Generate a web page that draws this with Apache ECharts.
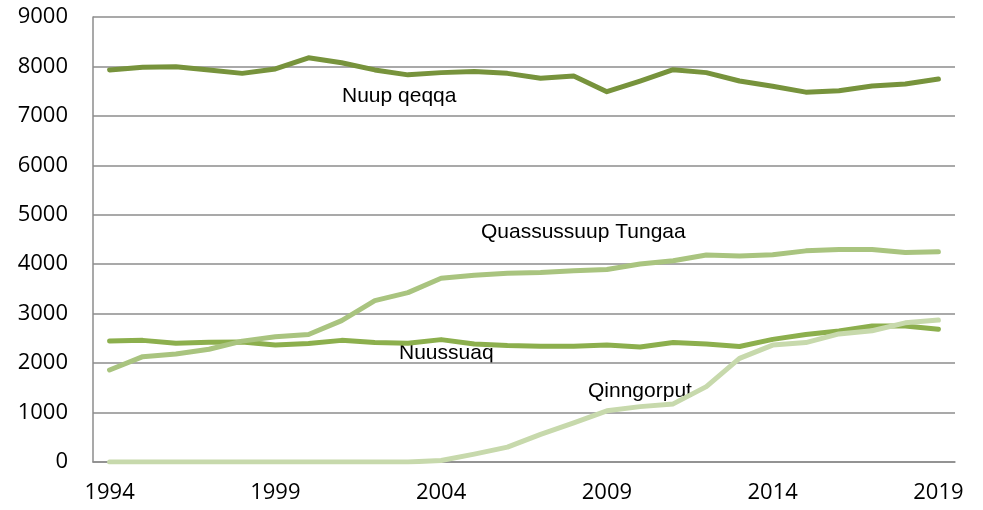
<!DOCTYPE html>
<html>
<head>
<meta charset="utf-8">
<script src="https://cdn.jsdelivr.net/npm/echarts@6/dist/echarts.min.js"></script>
<style>
html,body{margin:0;padding:0;background:#fff;}
#c{width:983px;height:510px;}
</style>
</head>
<body>
<div id="c"></div>
<script>
const years = ['1994','1995','1996','1997','1998','1999','2000','2001','2002','2003','2004','2005','2006','2007','2008','2009','2010','2011','2012','2013','2014','2015','2016','2017','2018','2019'];
const nuupQeqqa = [7930,7985,7995,7930,7860,7950,8175,8075,7930,7830,7875,7900,7860,7760,7805,7490,7705,7935,7875,7705,7600,7480,7510,7605,7645,7745];
const nuussuaq = [2445,2460,2400,2420,2425,2365,2395,2460,2415,2400,2475,2385,2355,2340,2340,2365,2325,2415,2385,2335,2480,2580,2650,2750,2750,2685];
const quassussuupTungaa = [1860,2130,2185,2280,2445,2535,2580,2860,3265,3425,3715,3775,3815,3835,3870,3895,4005,4070,4185,4165,4190,4270,4300,4300,4235,4250];
const qinngorput = [0,0,0,0,0,0,0,0,0,0,30,160,300,560,790,1035,1120,1175,1525,2095,2365,2415,2590,2655,2815,2870];
const yTicks = [0,1000,2000,3000,4000,5000,6000,7000,8000,9000];

const names = ['Nuup qeqqa','Nuussuaq','Quassussuup Tungaa','Qinngorput'];
const colors = ['#77933C','#8CAF4D','#A9C47F','#C7D9AC'];
const values = [nuupQeqqa, nuussuaq, quassussuupTungaa, qinngorput];

const chart = echarts.init(document.getElementById('c'));
const font = '"Liberation Sans", Arial, sans-serif';
const labelFont = '"Open Sans", sans-serif';
chart.setOption({
  animation: false,
  backgroundColor: '#fff',
  grid: {left: 93, right: 28, top: 17, bottom: 48},
  xAxis: {
    type: 'category',
    data: years,
    boundaryGap: true,
    axisLine: {show: true, lineStyle: {color: '#8c8c8c', width: 1.5}},
    axisTick: {show: false},
    axisLabel: {interval: 4, color: '#000', fontSize: 22, fontFamily: labelFont, margin: 20}
  },
  yAxis: {
    type: 'value',
    min: yTicks[0],
    max: yTicks[yTicks.length - 1],
    interval: 1000,
    axisLine: {show: true, lineStyle: {color: '#8c8c8c', width: 1.5}},
    axisTick: {show: false},
    splitLine: {show: true, lineStyle: {color: '#8c8c8c', width: 1.5}},
    axisLabel: {color: '#000', fontSize: 22, fontFamily: labelFont, margin: 25, formatter: v => String(v)}
  },
  series: names.map((n, i) => ({
    name: n,
    type: 'line',
    data: values[i],
    symbol: 'none',
    smooth: false,
    lineStyle: {color: colors[i], width: 5, cap: 'round', join: 'round'},
    z: 2 + i
  })),
  graphic: [
    {type: 'text', left: 342, top: 86, style: {text: 'Nuup qeqqa', font: '21px ' + font, fill: '#000'}},
    {type: 'text', left: 481, top: 222, style: {text: 'Quassussuup Tungaa', font: '21px ' + font, fill: '#000'}},
    {type: 'text', left: 399, top: 343, style: {text: 'Nuussuaq', font: '21px ' + font, fill: '#000'}},
    {type: 'text', left: 588, top: 381, style: {text: 'Qinngorput', font: '21px ' + font, fill: '#000'}}
  ]
});
</script>
</body>
</html>
